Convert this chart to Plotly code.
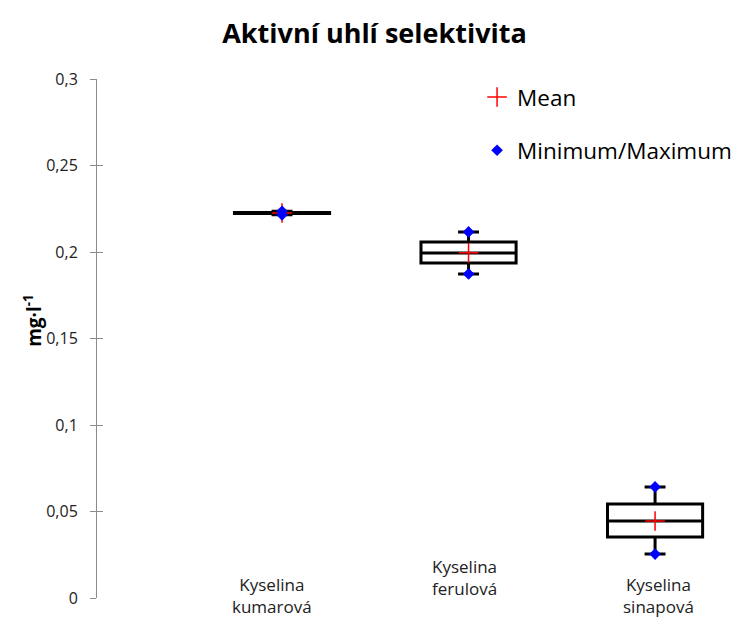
import plotly.graph_objects as go

categories = ['Kyselina<br>kumarová', 'Kyselina<br>ferulová', 'Kyselina<br>sinapová']
x_pos = [0, 1, 2]
q1 = [0.2222, 0.1936, 0.0353]
median = [0.2225, 0.1994, 0.0445]
q3 = [0.2228, 0.2058, 0.0543]
minimum = [0.2215, 0.1873, 0.0254]
maximum = [0.2235, 0.2116, 0.0642]
mean = [0.2225, 0.1995, 0.0445]

font = "Open Sans, DejaVu Sans, sans-serif"

fig = go.Figure()

fig.add_trace(go.Box(
    x=x_pos, q1=q1, median=median, q3=q3,
    lowerfence=minimum, upperfence=maximum,
    width=0.51, whiskerwidth=0.22,
    line=dict(color='black', width=3),
    fillcolor='white',
    boxpoints=False, showlegend=False, hoverinfo='skip'
))

fig.add_trace(go.Scatter(
    x=x_pos, y=mean, mode='markers', name='Mean',
    marker=dict(symbol='cross-thin', size=14, line=dict(color='#ff0000', width=1.5)),
    legendgroup='a'
))

fig.add_trace(go.Scatter(
    x=x_pos + x_pos, y=minimum + maximum, mode='markers', name='Minimum/Maximum',
    marker=dict(symbol='diamond', size=9, color='#0000ff'),
    legendgroup='b'
))

# staggered category labels like the original
shifts = [(-10, 3), (-4, 21), (3, 3)]
for xp, lab, (dx, dy) in zip(x_pos, categories, shifts):
    fig.add_annotation(x=xp, y=0, xref='x', yref='paper', text=lab,
                       showarrow=False, xshift=dx, yshift=dy, yanchor='middle',
                       font=dict(family=font, size=17, color='#222'))

# y axis title placed by hand
fig.add_annotation(x=0, y=0.534, xref='paper', yref='paper', xshift=-64,
                   xanchor='center', yanchor='middle',
                   text='<b>mg·l<sup>-1</sup></b>', textangle=-90, showarrow=False,
                   font=dict(family=font, size=19, color='black'))

# page body has an 8px margin, so the figure is 8px smaller than the window
fig.update_layout(
    width=733, height=611,
    paper_bgcolor='white', plot_bgcolor='white',
    margin=dict(l=89, r=2, t=71, b=21, autoexpand=False),
    separators=', ',
    title=dict(text='<b>Aktivní uhlí selektivita</b>', x=0.5, xanchor='center',
               yref='container', y=0.959, yanchor='middle',
               font=dict(family=font, size=27, color='black')),
    font=dict(family=font, color='black'),
    legend=dict(x=0.592, y=1.006, xanchor='left', yanchor='top',
                font=dict(family=font, size=22.5, color='black'),
                traceorder='grouped', tracegroupgap=21,
                bgcolor='rgba(0,0,0,0)', itemwidth=30),
    xaxis=dict(range=[-0.992, 2.45], showticklabels=False, showline=False,
               showgrid=False, zeroline=False, ticks=''),
    yaxis=dict(range=[0, 0.3], dtick=0.05, showgrid=False, zeroline=False,
               showline=True, linecolor='#8c8c8c', linewidth=1,
               ticks='outside', ticklen=6, tickcolor='#8c8c8c', ticklabelstandoff=9,
               tickfont=dict(family=font, size=16, color='#222')),
    yaxis2=dict(range=[0, 0.3], dtick=0.05, overlaying='y', side='left',
                showgrid=False, zeroline=False, showline=False, showticklabels=False,
                ticks='inside', ticklen=6, tickcolor='#8c8c8c'),
)
# invisible trace so the second axis (inner tick halves) is drawn
fig.add_trace(go.Scatter(x=[None], y=[None], yaxis='y2', showlegend=False, hoverinfo='skip'))

fig.write_html("out.html")
